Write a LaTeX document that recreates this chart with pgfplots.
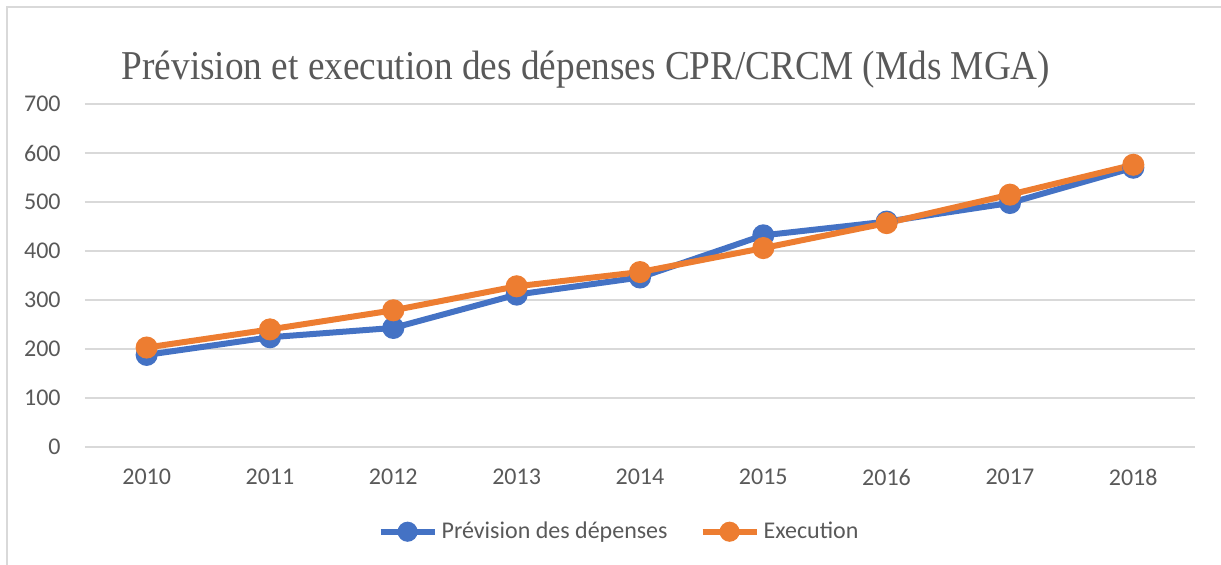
\documentclass[border=0pt]{standalone}
\usepackage{pgfplots}
\pgfplotsset{compat=1.18}
\usepackage{fontspec}
\setmainfont{Carlito}
\newfontfamily\titlefont{Liberation Serif}
\definecolor{cblue}{HTML}{4472C4}
\definecolor{corange}{HTML}{ED7D31}
\definecolor{cgrid}{HTML}{D9D9D9}
\definecolor{ctext}{HTML}{595959}
\begin{document}
\begin{tikzpicture}
\path[use as bounding box] (0,0) rectangle (610.5pt,282pt);
\draw[cgrid, line width=1pt] (3.5pt,-10pt) rectangle (630pt,278.5pt);
\node[anchor=base, text=ctext, font=\titlefont\fontsize{20.5pt}{24pt}\selectfont, inner sep=0pt, xscale=0.909] at (293pt,242.5pt) {Prévision et execution des dépenses CPR/CRCM (Mds MGA)};
\begin{axis}[
  at={(42.5pt,58.5pt)}, anchor=south west,
  scale only axis, width=555pt, height=171.5pt,
  xmin=2009.5, xmax=2018.5, ymin=0, ymax=700,
  xtick={2010,...,2018}, ytick={0,100,...,700},
  xticklabel={\pgfmathprintnumber[1000 sep={}]{\tick}},
  /pgf/number format/assume math mode=true,
  axis line style={draw=none},
  major tick length=0pt,
  ymajorgrids, grid style={cgrid, line width=0.75pt},
  tick label style={text=ctext, font=\fontsize{12pt}{14pt}\selectfont, inner sep=0pt},
  xticklabel style={anchor=north, yshift=-11pt},
  yticklabel style={anchor=east, xshift=-12pt},
  legend columns=2,
  legend style={at={(0.482,-0.247)}, anchor=center, draw=none, fill=none,
    font=\fontsize{12pt}{14pt}\selectfont, text=ctext,
    /tikz/every even column/.append style={column sep=14pt}},
  legend cell align=left,
  legend image code/.code={\draw[#1, mark repeat=2, mark phase=2, mark size=3.5pt] plot coordinates {(0pt,0pt) (13.5pt,0pt) (27pt,0pt)};},
  clip=false,
]
\addplot[cblue, line width=3pt, mark=*, mark size=4pt] coordinates {
(2010,188) (2011,224) (2012,243) (2013,311) (2014,346) (2015,432) (2016,460) (2017,498) (2018,570)};
\addlegendentry{Prévision des dépenses}
\addplot[corange, line width=3pt, mark=*, mark size=4pt] coordinates {
(2010,203) (2011,240) (2012,279) (2013,328) (2014,357) (2015,406) (2016,457) (2017,515) (2018,576)};
\addlegendentry{Execution}
\end{axis}
\end{tikzpicture}
\end{document}
